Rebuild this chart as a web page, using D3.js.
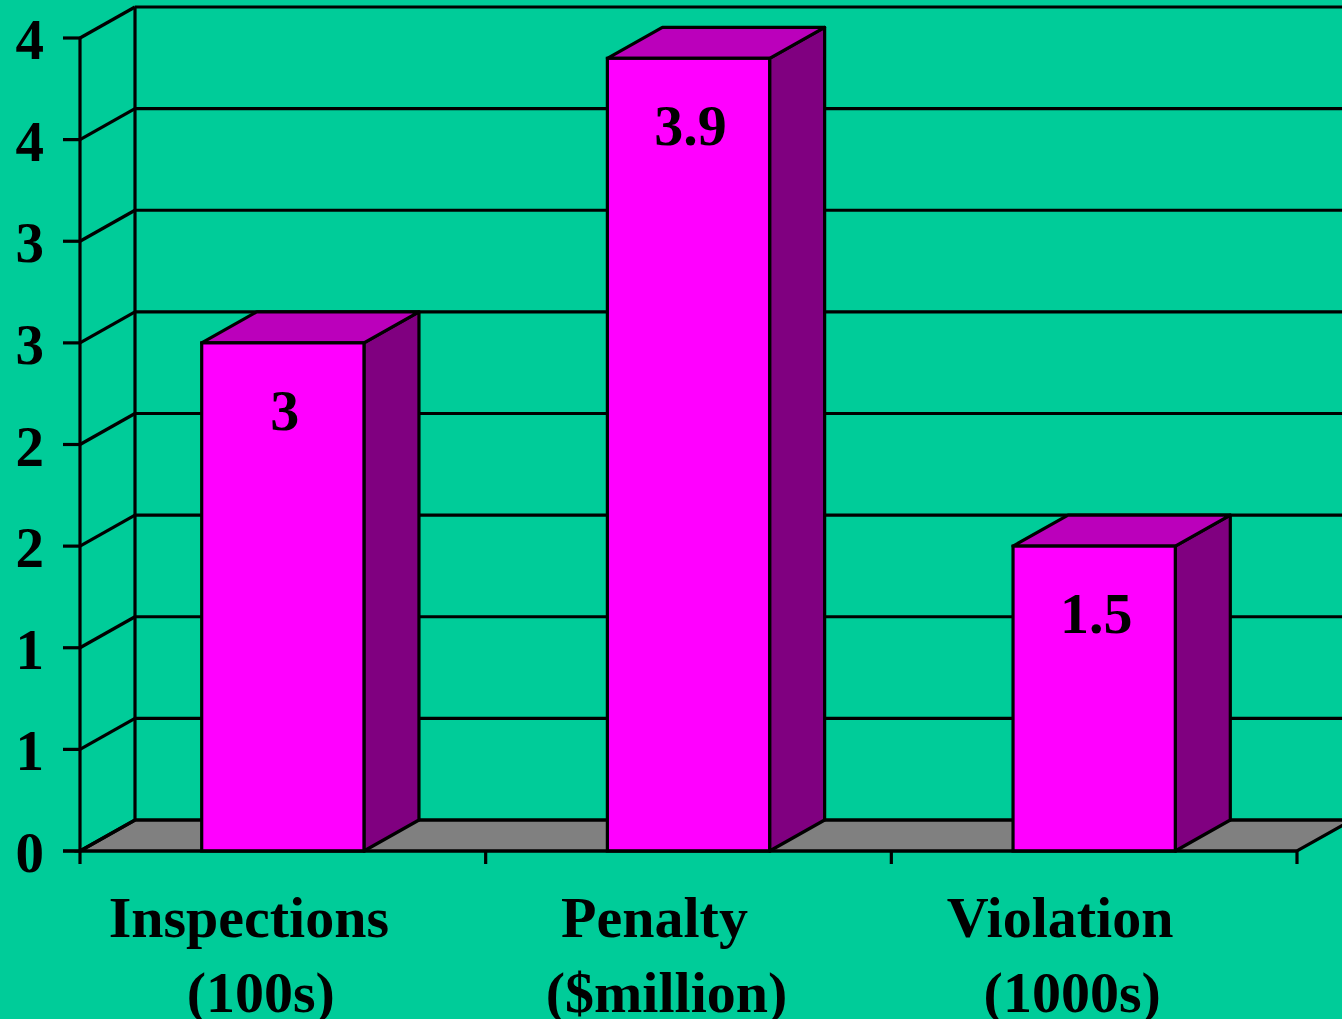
<!DOCTYPE html>
<html>
<head>
<meta charset="utf-8">
<script src="https://cdn.jsdelivr.net/npm/d3@7"></script>
<style>
  html, body { margin: 0; padding: 0; background: #00CC99; overflow: hidden; }
  text { font-family: "Liberation Serif", "Times New Roman", serif; font-weight: bold; fill: #000; }
</style>
</head>
<body>
<svg id="chart" width="1342" height="1019"></svg>
<script>
// chart data
var categories = ["Inspections", "Penalty", "Violation"];
var units = ["(100s)", "($million)", "(1000s)"];
var values = [2.5, 3.9, 1.5];
var valueLabels = ["3", "3.9", "1.5"];
var tickValues = [0, 0.5, 1, 1.5, 2, 2.5, 3, 3.5, 4];
var tickLabels = ["0", "1", "1", "2", "2", "3", "3", "4", "4"];

function draw() {
    var svg = d3.select("#chart"),
        width = +svg.attr("width"),
        height = +svg.attr("height");

    var left = 80, right = 1297, bottom = 851, top = 38;
    var dx = 55, dy = 31;   // depth of the 3d box

    var x = d3.scaleBand()
        .domain(categories)
        .range([left, right])
        .paddingInner(0)
        .paddingOuter(0);

    var y = d3.scaleLinear()
        .domain([0, 4])
        .range([bottom, top]);

    var barW = x.bandwidth() * 0.4;

    svg.append("rect")
        .attr("width", width)
        .attr("height", height)
        .attr("fill", "#00CC99");

    var line = function(x1, y1, x2, y2) {
        svg.append("line")
            .attr("x1", x1).attr("y1", y1)
            .attr("x2", x2).attr("y2", y2)
            .attr("stroke", "#000")
            .attr("stroke-width", 3.2);
    };

    // floor
    svg.append("polygon")
        .attr("points", [[left, y(0)], [right, y(0)], [right + dx, y(0) - dy], [left + dx, y(0) - dy]].join(" "))
        .attr("fill", "#808080")
        .attr("stroke", "#000")
        .attr("stroke-width", 3.2);

    // back wall grid + left wall lines
    tickValues.forEach(function(t) {
        line(left + dx, y(t) - dy, right + dx + 20, y(t) - dy);
        line(left, y(t), left + dx, y(t) - dy);
        line(left - 17, y(t), left, y(t));
    });
    line(left + dx, y(4) - dy, left + dx, y(0) - dy);
    line(left, y(4), left, y(0) + 13);

    // bars
    var bars = svg.selectAll("g.bar")
        .data(values)
        .enter()
        .append("g")
        .attr("class", "bar");

    bars.each(function(v, i) {
        var g = d3.select(this);
        var x0 = x(categories[i]) + (x.bandwidth() - barW) / 2,
            x1 = x0 + barW,
            yt = y(v), yb = y(0);

        g.append("polygon")
            .attr("points", [[x1, yt], [x1 + dx, yt - dy], [x1 + dx, yb - dy], [x1, yb]].join(" "))
            .attr("fill", "#800080")
            .attr("stroke", "#000")
            .attr("stroke-width", 3.2)
            .attr("stroke-linejoin", "round");

        g.append("polygon")
            .attr("points", [[x0, yt], [x0 + dx, yt - dy], [x1 + dx, yt - dy], [x1, yt]].join(" "))
            .attr("fill", "#BB00BB")
            .attr("stroke", "#000")
            .attr("stroke-width", 3.2)
            .attr("stroke-linejoin", "round");

        g.append("rect")
            .attr("x", x0)
            .attr("y", yt)
            .attr("width", barW)
            .attr("height", yb - yt)
            .attr("fill", "#FF00FF")
            .attr("stroke", "#000")
            .attr("stroke-width", 3.2);

        g.append("text")
            .attr("x", x0 + barW / 2 + 2)
            .attr("y", yt + 87)
            .attr("text-anchor", "middle")
            .style("font-size", "58px")
            .text(valueLabels[i]);
    });

    // front axis
    line(left - 17, y(0), right, y(0));
    categories.forEach(function(c, i) {
        line(x(c) + x.bandwidth(), y(0), x(c) + x.bandwidth(), y(0) + 13);
    });

    // y tick labels
    svg.selectAll("text.ytick")
        .data(tickValues)
        .enter()
        .append("text")
        .attr("class", "ytick")
        .attr("x", 44)
        .attr("y", function(d) { return y(d) + 21; })
        .attr("text-anchor", "end")
        .style("font-size", "57px")
        .text(function(d, i) { return tickLabels[i]; });

    // category labels
    var cats = svg.selectAll("g.cat")
        .data(categories)
        .enter()
        .append("g")
        .attr("class", "cat");

    cats.append("text")
        .attr("x", function(d) { return x(d) + x.bandwidth() / 2 - 34; })
        .attr("y", 937)
        .attr("text-anchor", "middle")
        .style("font-size", "58px")
        .text(function(d) { return d; });

    cats.append("text")
        .attr("x", function(d) { return x(d) + x.bandwidth() / 2 - 22; })
        .attr("y", 1012)
        .attr("text-anchor", "middle")
        .style("font-size", "58px")
        .text(function(d, i) { return units[i]; });
}

window.onload = function() {
    draw();
};
</script>
</body>
</html>
